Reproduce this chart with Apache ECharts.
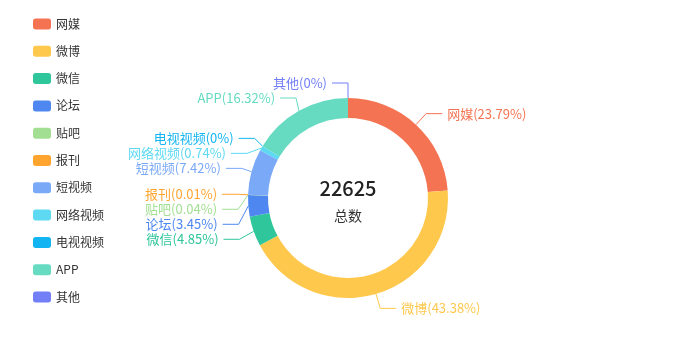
<!DOCTYPE html>
<html>
<head>
<meta charset="utf-8">
<script src="https://cdn.jsdelivr.net/npm/echarts@6/dist/echarts.min.js"></script>
<style>html,body{margin:0;padding:0;background:#fff}#c{width:680px;height:343px}</style>
</head>
<body>
<div id="c"></div>
<script>
const categories = ['网媒','微博','微信','论坛','贴吧','报刊','短视频','网络视频','电视视频','APP','其他'];
const values = [5382, 9815, 1097, 781, 9, 2, 1679, 167, 0, 3693, 0];
const colors = ['#F47352','#FEC84D','#2EC69A','#4E87F0','#A2DF92','#FFA52F','#7AA9F7','#5ED9F2','#12B5F2','#66DBC2','#737FF7'];
const totalLabel = '22625';
const subLabel = '总数';

const chart = echarts.init(document.getElementById('c'));
chart.setOption({
  animation: false,
  color: colors,
  legend: {
    orient: 'vertical',
    left: 28,
    top: 13,
    itemWidth: 18,
    itemHeight: 11,
    itemGap: 15.3,
    icon: 'roundRect',
    textStyle: { fontSize: 12, color: '#333', fontFamily: 'Noto Sans CJK SC' },
    data: categories
  },
  graphic: [
    { type: 'text', x: 348, y: 188, style: { text: totalLabel, textAlign: 'center', textVerticalAlign: 'middle', fontSize: 20, fontWeight: 500, fill: '#222', fontFamily: 'Noto Sans CJK SC' } },
    { type: 'text', x: 348, y: 216, style: { text: subLabel, textAlign: 'center', textVerticalAlign: 'middle', fontSize: 14, fill: '#333', fontFamily: 'Noto Sans CJK SC' } }
  ],
  series: [{
    type: 'pie',
    center: [348, 198],
    radius: [80, 100],
    startAngle: 90,
    label: { formatter: '{b}({d}%)', fontSize: 13, lineHeight: 12, color: 'inherit', fontFamily: 'Noto Sans CJK SC' },
    labelLine: { length: 15, length2: 16 },
    data: categories.map((n, i) => ({ name: n, value: values[i] }))
  }]
});
</script>
</body>
</html>
